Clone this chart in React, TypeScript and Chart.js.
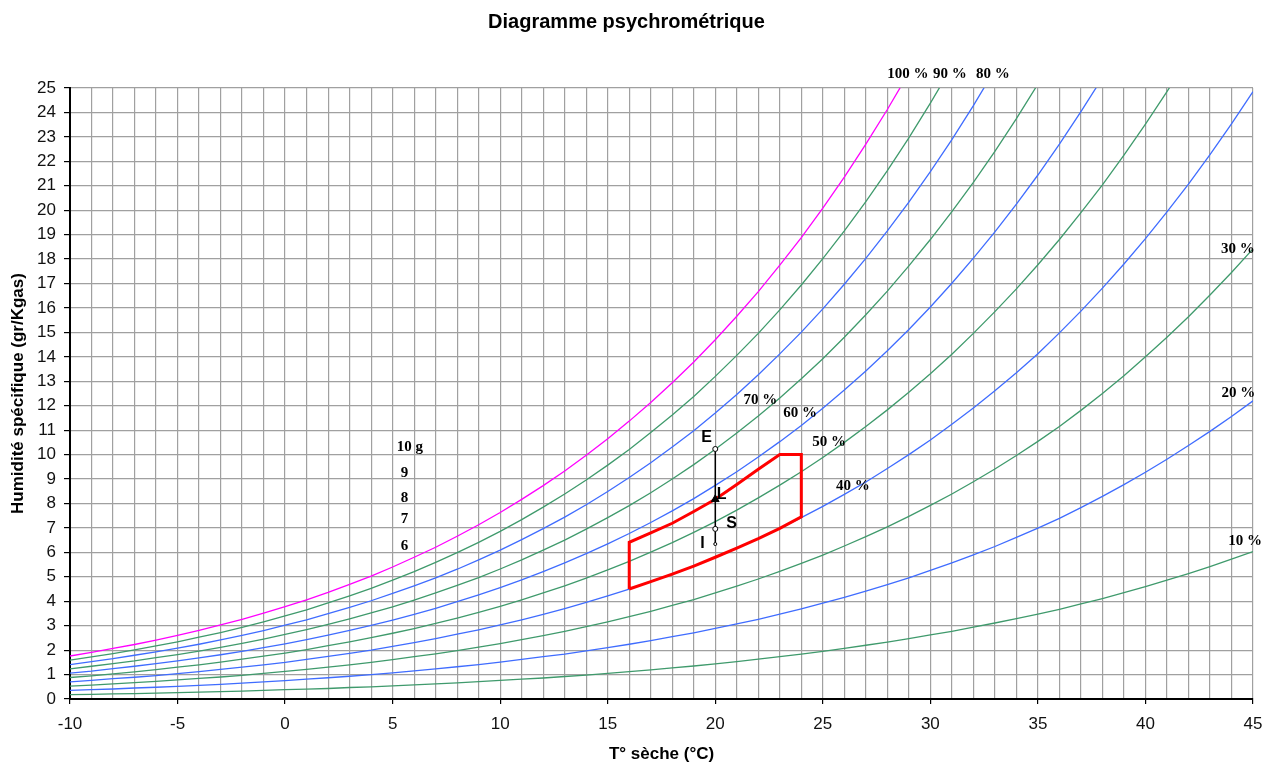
import React, { useEffect, useRef } from 'react';
import { Chart, registerables } from 'chart.js';

Chart.register(...registerables);

// Dry-bulb temperatures (°C)
const TEMPS = [-10, -9, -8, -7, -6, -5, -4, -3, -2, -1, 0, 1, 2, 3, 4, 5, 6, 7, 8, 9, 10, 11, 12, 13, 14, 15, 16, 17, 18, 19, 20, 21, 22, 23, 24, 25, 26, 27, 28, 29, 30, 31, 32, 33, 34, 35, 36, 37, 38, 39, 40, 41, 42, 43, 44, 45];

// Specific humidity (g/kg dry air) for each relative humidity curve
const RH_100 = [1.76, 1.91, 2.07, 2.23, 2.41, 2.60, 2.81, 3.03, 3.26, 3.51, 3.78, 4.06, 4.36, 4.69, 5.03, 5.40, 5.80, 6.21, 6.66, 7.13, 7.63, 8.17, 8.73, 9.33, 9.97, 10.65, 11.37, 12.13, 12.94, 13.79, 14.70, 15.66, 16.67, 17.75, 18.88, 20.08, 21.35, 22.70, 24.12, 25.62];
const RH_90 = [1.59, 1.72, 1.86, 2.01, 2.17, 2.34, 2.53, 2.72, 2.93, 3.16, 3.40, 3.65, 3.93, 4.22, 4.53, 4.86, 5.21, 5.59, 5.99, 6.41, 6.86, 7.34, 7.85, 8.39, 8.96, 9.57, 10.21, 10.90, 11.62, 12.38, 13.20, 14.06, 14.96, 15.92, 16.94, 18.02, 19.15, 20.35, 21.62, 22.96, 24.38, 25.87];
const RH_80 = [1.41, 1.53, 1.65, 1.79, 1.93, 2.08, 2.24, 2.42, 2.60, 2.80, 3.02, 3.24, 3.49, 3.75, 4.02, 4.32, 4.63, 4.96, 5.31, 5.69, 6.09, 6.52, 6.97, 7.44, 7.95, 8.49, 9.06, 9.67, 10.31, 10.98, 11.70, 12.46, 13.27, 14.12, 15.01, 15.96, 16.97, 18.03, 19.15, 20.33, 21.58, 22.89, 24.28, 25.75];
const RH_70 = [1.23, 1.34, 1.45, 1.56, 1.69, 1.82, 1.96, 2.11, 2.28, 2.45, 2.64, 2.84, 3.05, 3.28, 3.52, 3.77, 4.05, 4.34, 4.65, 4.97, 5.32, 5.69, 6.09, 6.50, 6.95, 7.42, 7.91, 8.44, 9.00, 9.59, 10.22, 10.88, 11.58, 12.32, 13.10, 13.92, 14.80, 15.72, 16.69, 17.72, 18.80, 19.94, 21.14, 22.41, 23.75, 25.16];
const RH_60 = [1.06, 1.14, 1.24, 1.34, 1.45, 1.56, 1.68, 1.81, 1.95, 2.10, 2.26, 2.43, 2.61, 2.81, 3.01, 3.23, 3.46, 3.71, 3.98, 4.26, 4.56, 4.87, 5.21, 5.57, 5.95, 6.35, 6.77, 7.22, 7.70, 8.20, 8.74, 9.30, 9.90, 10.53, 11.19, 11.90, 12.64, 13.42, 14.25, 15.12, 16.04, 17.01, 18.04, 19.11, 20.25, 21.44, 22.70, 24.03, 25.42];
const RH_50 = [0.88, 0.95, 1.03, 1.11, 1.20, 1.30, 1.40, 1.51, 1.63, 1.75, 1.88, 2.02, 2.18, 2.34, 2.51, 2.69, 2.88, 3.09, 3.31, 3.54, 3.79, 4.06, 4.34, 4.63, 4.95, 5.28, 5.63, 6.01, 6.40, 6.82, 7.26, 7.73, 8.23, 8.75, 9.30, 9.88, 10.50, 11.15, 11.83, 12.55, 13.31, 14.11, 14.96, 15.85, 16.78, 17.77, 18.80, 19.90, 21.04, 22.25, 23.52, 24.85, 26.26];
const RH_40 = [0.70, 0.76, 0.83, 0.89, 0.96, 1.04, 1.12, 1.21, 1.30, 1.40, 1.50, 1.62, 1.74, 1.87, 2.00, 2.15, 2.31, 2.47, 2.65, 2.83, 3.03, 3.24, 3.46, 3.70, 3.95, 4.22, 4.50, 4.80, 5.11, 5.44, 5.80, 6.17, 6.56, 6.98, 7.42, 7.88, 8.37, 8.88, 9.43, 10.00, 10.60, 11.24, 11.91, 12.61, 13.35, 14.13, 14.98, 15.87, 16.81, 17.80, 18.84, 19.93, 21.07, 22.27, 23.53, 24.85];
const RH_30 = [0.53, 0.57, 0.62, 0.67, 0.72, 0.78, 0.84, 0.90, 0.97, 1.05, 1.13, 1.21, 1.30, 1.40, 1.50, 1.61, 1.73, 1.85, 1.98, 2.12, 2.27, 2.43, 2.59, 2.77, 2.96, 3.16, 3.37, 3.59, 3.83, 4.07, 4.34, 4.62, 4.91, 5.22, 5.55, 5.89, 6.26, 6.64, 7.04, 7.47, 7.92, 8.39, 8.89, 9.41, 9.96, 10.54, 11.15, 11.81, 12.50, 13.23, 14.00, 14.80, 15.64, 16.53, 17.45, 18.42];
const RH_20 = [0.35, 0.38, 0.41, 0.45, 0.48, 0.52, 0.56, 0.60, 0.65, 0.70, 0.75, 0.81, 0.87, 0.93, 1.00, 1.07, 1.15, 1.23, 1.32, 1.41, 1.51, 1.62, 1.73, 1.84, 1.97, 2.10, 2.24, 2.39, 2.55, 2.71, 2.89, 3.07, 3.26, 3.47, 3.69, 3.92, 4.16, 4.41, 4.68, 4.96, 5.26, 5.57, 5.90, 6.24, 6.61, 6.99, 7.39, 7.83, 8.29, 8.77, 9.28, 9.81, 10.37, 10.95, 11.56, 12.20];
const RH_10 = [0.18, 0.19, 0.21, 0.22, 0.24, 0.26, 0.28, 0.30, 0.32, 0.35, 0.38, 0.40, 0.43, 0.47, 0.50, 0.54, 0.58, 0.62, 0.66, 0.71, 0.76, 0.81, 0.86, 0.92, 0.98, 1.05, 1.12, 1.19, 1.27, 1.35, 1.44, 1.53, 1.63, 1.73, 1.84, 1.95, 2.07, 2.20, 2.33, 2.47, 2.62, 2.77, 2.94, 3.11, 3.29, 3.47, 3.67, 3.89, 4.11, 4.35, 4.60, 4.86, 5.13, 5.42, 5.72, 6.03];

// Comfort zone outline (red polygon)
const ZONE_X = [16, 16, 17, 18, 19, 20, 21, 22, 23, 24, 24, 23, 22, 21, 20, 19, 18, 17, 16];
const ZONE_Y = [4.50, 6.41, 6.80, 7.19, 7.67, 8.17, 8.78, 9.40, 10.00, 10.00, 7.45, 6.98, 6.56, 6.17, 5.80, 5.44, 5.11, 4.80, 4.50];

// Air states I, S, L, E at 20 °C
const STATE_NAMES = ['I', 'S', 'L', 'E'];
const STATE_X = [20, 20, 20, 20];
const STATE_Y = [6.34, 6.96, 8.17, 10.23];
const STATE_LABEL_X = [19.4, 20.76, 20.3, 19.6];
const STATE_LABEL_Y = [6.34, 7.19, 8.35, 10.71];

// Curve labels
const RH_LABELS = ['100 %', '90 %', '80 %', '70 %', '60 %', '50 %', '40 %', '30 %', '20 %', '10 %'];
const RH_LABEL_X = [28.96, 30.91, 32.91, 22.1, 23.94, 25.29, 26.4, 44.3, 44.32, 44.63];
const RH_LABEL_Y = [25.57, 25.57, 25.57, 12.23, 11.7, 10.53, 8.72, 18.4, 12.53, 6.48];

// Side labels (grams)
const G_LABELS = ['10 g', '9', '8', '7', '6'];
const G_LABEL_X = [5.19, 5.55, 5.55, 5.55, 5.55];
const G_LABEL_Y = [10.32, 9.23, 8.21, 7.36, 6.26];

const GREEN = '#3f9a6c';
const BLUE = '#3f6cff';
const MAGENTA = '#FF00FF';

const CURVES: [string, number[], string][] = [
  ['100 %', RH_100, MAGENTA],
  ['90 %', RH_90, GREEN],
  ['80 %', RH_80, BLUE],
  ['70 %', RH_70, GREEN],
  ['60 %', RH_60, BLUE],
  ['50 %', RH_50, GREEN],
  ['40 %', RH_40, BLUE],
  ['30 %', RH_30, GREEN],
  ['20 %', RH_20, BLUE],
  ['10 %', RH_10, GREEN],
];

const annotPlugin = {
  id: 'annot',
  afterDatasetsDraw(chart: any) {
    const ctx = chart.ctx;
    const xs = chart.scales.x;
    const ys = chart.scales.y;
    ctx.save();
    ctx.fillStyle = '#000';
    ctx.textBaseline = 'middle';
    ctx.textAlign = 'center';
    ctx.font = "bold 15px 'Liberation Serif'";
    RH_LABELS.forEach((t, i) => {
      ctx.fillText(t, xs.getPixelForValue(RH_LABEL_X[i]), ys.getPixelForValue(RH_LABEL_Y[i]));
    });
    G_LABELS.forEach((t, i) => {
      ctx.textAlign = i === 0 ? 'left' : 'center';
      ctx.fillText(t, xs.getPixelForValue(G_LABEL_X[i]), ys.getPixelForValue(G_LABEL_Y[i]));
    });
    ctx.textAlign = 'center';
    ctx.font = "bold 16px 'Liberation Sans'";
    STATE_NAMES.forEach((t, i) => {
      ctx.fillText(t, xs.getPixelForValue(STATE_LABEL_X[i]), ys.getPixelForValue(STATE_LABEL_Y[i]));
    });
    ctx.restore();
  },
};

export default function App() {
  const ref = useRef<HTMLCanvasElement>(null);
  useEffect(() => {
    if (!ref.current) return;
    const datasets: any[] = [];
    datasets.push({
      label: 'états',
      data: STATE_X.map((x, i) => ({ x, y: STATE_Y[i] })),
      showLine: true,
      borderColor: '#000',
      borderWidth: 1.5,
      pointStyle: ['circle', 'circle', 'triangle', 'circle'],
      pointRadius: [1.5, 2.5, 4.5, 2.5],
      pointBackgroundColor: ['#fff', '#fff', '#000', '#fff'],
      pointBorderColor: '#000',
      pointBorderWidth: 1,
    });
    datasets.push({
      label: 'zone',
      data: ZONE_X.map((x, i) => ({ x, y: ZONE_Y[i] })),
      showLine: true,
      borderColor: '#FF0000',
      borderWidth: 3,
      pointRadius: 0,
      tension: 0,
    });
    CURVES.forEach(([name, vals, color]) => {
      datasets.push({
        label: name,
        data: vals.map((y, i) => ({ x: TEMPS[i], y })),
        showLine: true,
        borderColor: color,
        borderWidth: 1.3,
        pointRadius: 0,
        tension: 0,
      });
    });
    const chart = new Chart(ref.current, {
      type: 'scatter',
      data: { datasets },
      plugins: [annotPlugin],
      options: {
        animation: false,
        responsive: false,
        events: [],
        layout: { padding: { left: 0, right: 16, top: 0, bottom: 2 } },
        plugins: {
          legend: { display: false },
          tooltip: { enabled: false },
          title: {
            display: true,
            text: 'Diagramme psychrométrique',
            color: '#000',
            font: { family: "'Liberation Sans'", size: 20, weight: 'bold' },
            padding: { top: 10, bottom: 54 },
          },
        },
        scales: {
          x: {
            type: 'linear',
            min: -10,
            max: 45,
            afterFit: (s: any) => { s.height = 66; s.paddingRight = 0; s.paddingLeft = 0; },
            ticks: {
              stepSize: 1,
              autoSkip: false,
              maxRotation: 0,
              padding: 10,
              color: '#111',
              font: { family: "'Liberation Sans'", size: 17 },
              callback: (v: any) => (Number(v) % 5 === 0 ? String(v) : ''),
            },
            grid: {
              color: '#a0a0a0',
              lineWidth: 1.2,
              tickLength: 5,
              tickColor: (c: any) => (c.tick && c.tick.value % 5 === 0 ? '#000' : 'rgba(0,0,0,0)'),
            },
            border: { color: '#000', width: 2 },
            title: {
              display: true,
              text: 'T° sèche (°C)',
              color: '#000',
              font: { family: "'Liberation Sans'", size: 17, weight: 'bold' },
              padding: { top: 4, bottom: 0 },
            },
          },
          y: {
            type: 'linear',
            min: 0,
            max: 25,
            afterFit: (s: any) => { s.width = 70; },
            ticks: {
              stepSize: 1,
              autoSkip: false,
              padding: 8,
              color: '#111',
              font: { family: "'Liberation Sans'", size: 17 },
            },
            grid: {
              color: '#a0a0a0',
              lineWidth: 1.2,
              tickLength: 6,
              tickColor: '#000',
            },
            border: { color: '#000', width: 2 },
            title: {
              display: true,
              text: 'Humidité spécifique (gr/Kgas)',
              color: '#000',
              font: { family: "'Liberation Sans'", size: 17, weight: 'bold' },
              padding: { top: 8, bottom: 0 },
            },
          },
        },
      },
    });
    return () => chart.destroy();
  }, []);
  return (
    <div style={{ position: 'absolute', left: 0, top: 0, width: 1269, height: 767, background: '#fff' }}>
      <canvas ref={ref} width={1269} height={767} style={{ display: 'block' }} />
    </div>
  );
}
